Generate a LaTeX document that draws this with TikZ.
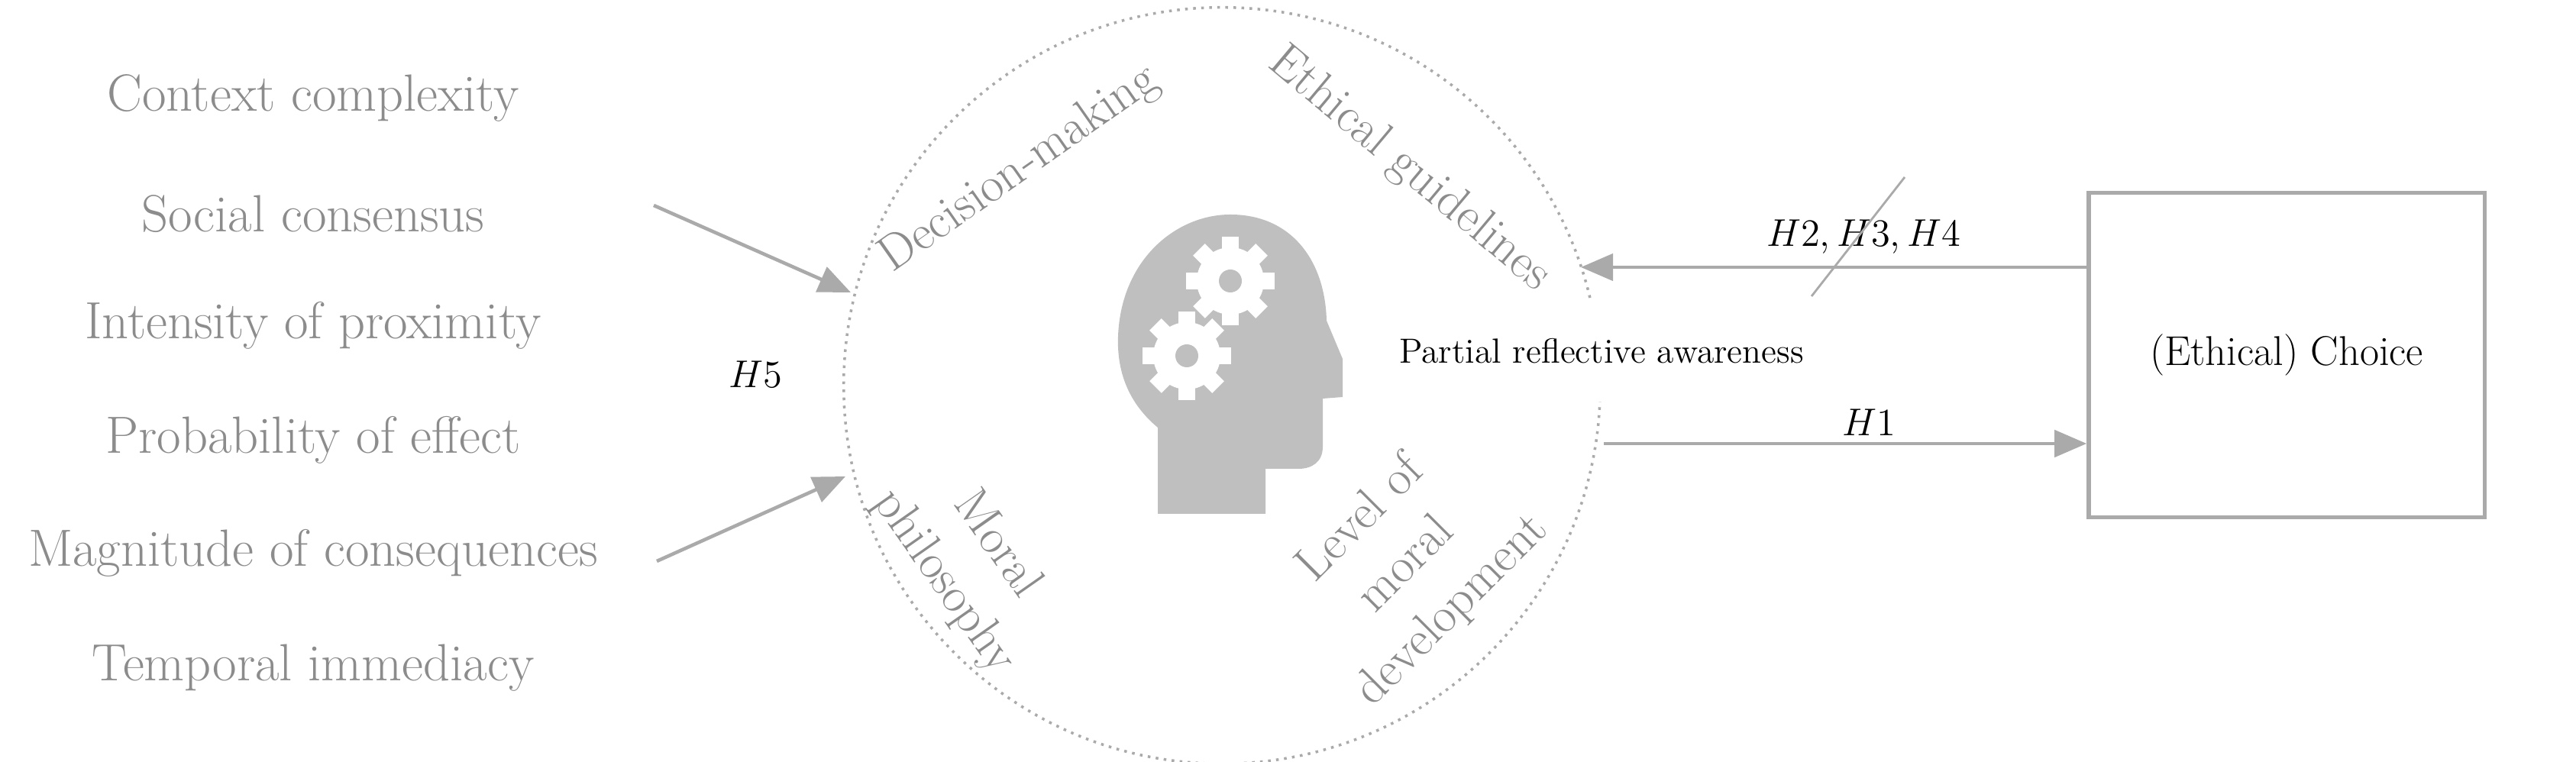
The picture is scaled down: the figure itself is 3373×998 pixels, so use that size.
\documentclass[tikz,border=0pt]{standalone}
\usetikzlibrary{arrows.meta}
\begin{document}
\definecolor{tg}{RGB}{140,140,140}
\definecolor{lg}{RGB}{170,170,170}
\definecolor{hg}{RGB}{191,191,191}
\begin{tikzpicture}[x=0.01cm,y=-0.01cm,
  lt/.style={text=tg,font=\fontsize{19.5}{22}\selectfont,inner sep=0},
  ct/.style={text=tg,font=\fontsize{18.5}{24}\selectfont,align=center,inner sep=0},
  arr/.style={draw=lg,line width=1.3pt,-{Triangle[length=12pt,width=10pt]}},
  lab/.style={font=\fontsize{15}{17}\selectfont,inner sep=0}]
\useasboundingbox (0,0) rectangle (3373,998);
% circle
\node[circle,draw=lg,dotted,line width=1pt,minimum size=9.9cm] (circ) at (1600,505) {};
% left factors
\node[lt] (f1) at (410,129) {Context complexity};
\node[lt] (f2) at (410,280) {Social consensus};
\node[lt] (f3) at (410,426) {Intensity of proximity};
\node[lt] (f4) at (410,576) {Probability of effect};
\node[lt] (f5) at (410,724) {Magnitude of consequences};
\node[lt] (f6) at (410,875) {Temporal immediacy};
\coordinate (a1s) at (856,269); \coordinate (a1e) at (1114,383);
\coordinate (a2s) at (860,735); \coordinate (a2e) at (1107,624);
\draw[arr] (a1s) -- (a1e);
\draw[arr] (a2s) -- (a2e);
\node[lab] (h5) at (989,490) {$H5$};
% circle labels
\node[ct,rotate=35] (dm) at (1335,222) {Decision-making};
\node[ct,rotate=-40] (eg) at (1845,222) {Ethical guidelines};
\node[ct,rotate=-55] (mp) at (1270,738) {Moral\\philosophy};
\node[ct,rotate=45] (lm) at (1842,740) {Level of\\moral\\development};
% head
\fill[hg] (1516,673) -- (1516,560) .. controls (1480,530) and (1462,490) .. (1464,440)
  .. controls (1468,340) and (1540,281) .. (1611,281)
  .. controls (1690,281) and (1735,340) .. (1737,420)
  -- (1758,470) -- (1758,520) -- (1732,522) -- (1732,585)
  .. controls (1732,605) and (1718,614) .. (1700,614) -- (1657,614) -- (1657,673) -- cycle;
\foreach \cx/\cy in {1611/368,1554/466}{
  \fill[white] (\cx,\cy) circle (44);
  \foreach \a in {0,45,...,315}{
    \fill[white,rotate around={\a:(\cx,\cy)}] (\cx-11,\cy-58) rectangle (\cx+11,\cy-36);
  }
  \fill[hg] (\cx,\cy) circle (15);
}
% partial reflective awareness
\node[fill=white,inner xsep=12pt,inner ysep=14pt,font=\fontsize{13}{15}\selectfont] (pra) at (2097,460) {Partial reflective awareness};
% box
\node[draw=lg,line width=1.5pt,minimum width=5.18cm,minimum height=4.25cm,font=\fontsize{15.5}{18}\selectfont] (ch) at (2994,465) {(Ethical) Choice};
\coordinate (c1) at (2070,350);
\coordinate (c2) at (2100,581);
\draw[arr] (ch.west |- c1) -- (c1);
\draw[arr] (c2) -- (ch.west |- c2);
\node[lab] (h234) at (2440,310) {$H2, H3, H4$};
\node[lab] (h1) at (2447,553) {$H1$};
\coordinate (s1) at (2494,232); \coordinate (s2) at (2372,388);
\draw[lg,line width=0.8pt] (s1) -- (s2);
\end{tikzpicture}
\end{document}
